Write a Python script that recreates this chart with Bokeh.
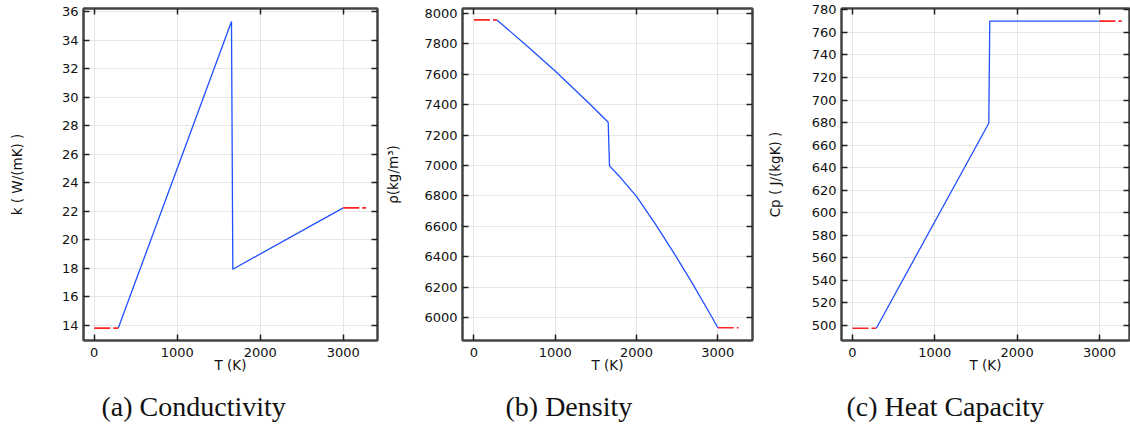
from bokeh.plotting import figure
from bokeh.layouts import row
from bokeh.models import Range1d, LinearAxis, FixedTicker, Title, CustomJSTickFormatter
from bokeh.embed import file_html
from bokeh.resources import INLINE

# ---- tick values ----
T_ticks = [0, 1000, 2000, 3000]
k_ticks = [14, 16, 18, 20, 22, 24, 26, 28, 30, 32, 34, 36]
rho_ticks = [6000, 6200, 6400, 6600, 6800, 7000, 7200, 7400, 7600, 7800, 8000]
cp_ticks = [500, 520, 540, 560, 580, 600, 620, 640, 660, 680, 700, 720, 740, 760, 780]

# ---- (a) conductivity ----
k_T = [290, 1654, 1670, 3000]
k_val = [13.8, 35.3, 17.93, 22.23]
k_T_low = [0, 290]
k_low = [13.8, 13.8]
k_T_high = [3000, 3277]
k_high = [22.23, 22.23]

# ---- (b) density ----
rho_T = [283, 640, 1000, 1435, 1652, 1668, 1800, 2000, 2235, 2465, 2695, 2925, 3000]
rho_val = [7958, 7793, 7622, 7400, 7284, 6997, 6922, 6797, 6612, 6420, 6217, 6004, 5932]
rho_T_low = [0, 283]
rho_low = [7958, 7958]
rho_T_high = [3000, 3255]
rho_high = [5932, 5932]

# ---- (c) heat capacity ----
cp_T = [290, 1656, 1668, 3000]
cp_val = [497.6, 679.4, 770.0, 770.0]
cp_T_low = [0, 290]
cp_low = [497.6, 497.6]
cp_T_high = [3000, 3270]
cp_high = [770.0, 770.0]

BLUE = "#2050ff"
RED = "#ff2424"
AX = "#444444"
FONT = "DejaVu Sans"


def make_panel(xr, yr, yticks, ylabel, ystand, caption, cap_off,
               bl, fw, br, main, low, high):
    p = figure(frame_width=fw, frame_height=332,
               min_border_left=bl, min_border_right=br,
               min_border_top=8, min_border_bottom=87,
               x_range=Range1d(*xr), y_range=Range1d(*yr),
               output_backend="svg", toolbar_location=None)
    p.outline_line_color = AX
    p.outline_line_width = 2
    p.background_fill_color = "white"
    p.border_fill_color = "white"

    xa = p.xaxis[0]
    ya = p.yaxis[0]
    xa.ticker = FixedTicker(ticks=T_ticks)
    ya.ticker = FixedTicker(ticks=yticks)
    p.xgrid.ticker = FixedTicker(ticks=T_ticks)
    p.ygrid.ticker = FixedTicker(ticks=yticks)
    p.grid.grid_line_color = "#e6e6e6"
    p.grid.grid_line_width = 1

    for a in (xa, ya):
        a.axis_line_color = AX
        a.axis_line_width = 2
        a.major_tick_in = 6
        a.major_tick_out = 0
        a.major_tick_line_color = "#222222"
        a.major_tick_line_width = 1.5
        a.minor_tick_line_color = None
        a.major_label_text_font = FONT
        a.major_label_text_font_size = "13px"
        a.major_label_text_color = "#111111"
        a.axis_label_text_font = FONT
        a.axis_label_text_font_size = "13.5px"
        a.axis_label_text_font_style = "normal"
        a.axis_label_text_color = "#111111"
    xa.axis_label = "T (K)"
    xa.major_label_standoff = 7
    xa.axis_label_standoff = -3
    ya.axis_label = ylabel
    ya.major_label_standoff = 5
    ya.axis_label_standoff = ystand

    top = LinearAxis(ticker=FixedTicker(ticks=T_ticks),
                     formatter=CustomJSTickFormatter(code="return ''"))
    right = LinearAxis(ticker=FixedTicker(ticks=yticks),
                       formatter=CustomJSTickFormatter(code="return ''"))
    for a in (top, right):
        a.axis_line_color = AX
        a.axis_line_width = 2
        a.major_tick_in = 6
        a.major_tick_out = 0
        a.major_tick_line_color = "#222222"
        a.major_tick_line_width = 1.5
        a.minor_tick_line_color = None
        a.major_label_standoff = 0
        a.major_label_text_font_size = "1px"
    p.add_layout(top, "above")
    p.add_layout(right, "right")

    p.line(main[0], main[1], line_color=BLUE, line_width=1.3)
    p.line(low[0], low[1], line_color=RED, line_width=1.6, line_dash="16 3")
    p.line(high[0], high[1], line_color=RED, line_width=1.6, line_dash="16 3")

    cap = Title(text=caption, align="left", offset=cap_off,
                text_font="Liberation Serif", text_font_size="28px",
                text_font_style="normal", text_color="#111111",
                standoff=27)
    p.add_layout(cap, "below")
    return p


p1 = make_panel((-129, 3413), (12.93, 36.21), k_ticks, "k ( W/(mK) )", 34,
                "(a) Conductivity", 18, 83, 294, 3,
                (k_T, k_val), (k_T_low, k_low), (k_T_high, k_high))
p2 = make_panel((-140, 3427), (5848, 8033), rho_ticks, "ρ(kg/m³)", 20,
                "(b) Density", 43, 82, 290, 5,
                (rho_T, rho_val), (rho_T_low, rho_low), (rho_T_high, rho_high))
p3 = make_panel((-133, 3365), (486.7, 781.2), cp_ticks, "Cp ( J/(kgK) )", 26,
                "(c) Heat Capacity", 5, 84, 288, 1,
                (cp_T, cp_val), (cp_T_low, cp_low), (cp_T_high, cp_high))

layout = row(p1, p2, p3, spacing=0)
open("out.html", "w").write(file_html(layout, INLINE))
